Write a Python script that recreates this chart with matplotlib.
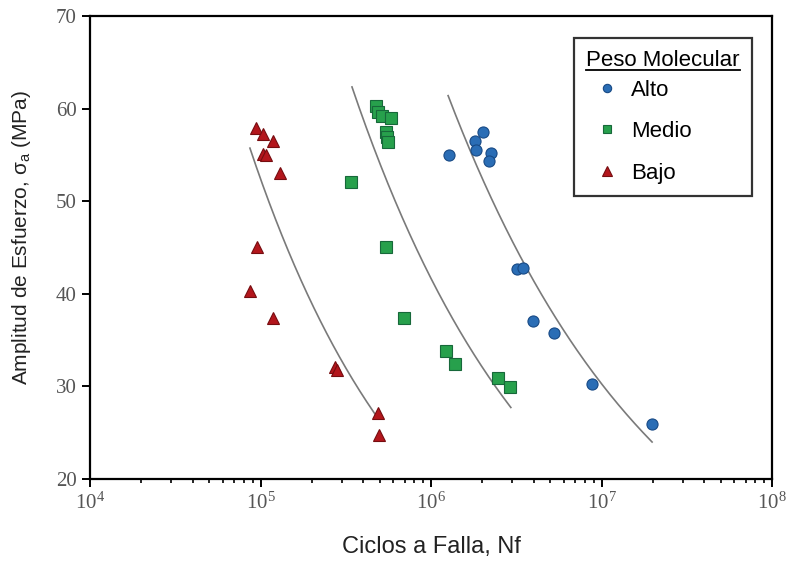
import numpy as np
import matplotlib
matplotlib.use("Agg")
import matplotlib.pyplot as plt
from matplotlib.lines import Line2D

plt.rcParams['font.family'] = ['Liberation Serif', 'DejaVu Serif']

# ciclos a falla (Nf) y amplitud de esfuerzo (MPa) por peso molecular
alto_n = [1.28e6, 1.81e6, 2.02e6, 1.84e6, 2.25e6, 2.19e6, 3.19e6, 3.46e6, 3.97e6, 5.26e6, 8.79e6, 1.98e7]
alto_s = [55.0, 56.5, 57.5, 55.5, 55.2, 54.3, 42.7, 42.8, 37.1, 35.8, 30.3, 25.9]

medio_n = [4.75e5, 4.89e5, 5.16e5, 5.83e5, 5.45e5, 5.52e5, 5.60e5, 3.40e5, 5.45e5, 6.95e5,
           1.22e6, 1.38e6, 2.47e6, 2.90e6]
medio_s = [60.3, 59.6, 59.2, 59.0, 57.5, 56.9, 56.4, 52.1, 45.1, 37.4, 33.8, 32.4, 30.9, 29.9]

bajo_n = [9.42e4, 1.04e5, 1.18e5, 1.04e5, 1.08e5, 1.30e5, 9.53e4, 8.67e4, 1.18e5, 2.74e5,
          2.81e5, 4.89e5, 4.95e5]
bajo_s = [57.9, 57.3, 56.5, 55.1, 55.0, 53.0, 45.1, 40.3, 37.4, 32.1, 31.8, 27.1, 24.8]

# ajustes S = A * N^b  (A, b, N inicial, N final)
fit_A = [7396, 7690, 7295]
fit_b = [-0.3411, -0.3777, -0.4287]
fit_n0 = [1.26e6, 3.44e5, 8.67e4]
fit_n1 = [1.98e7, 2.94e6, 4.82e5]

labels = ['Alto', 'Medio', 'Bajo']
colors = ['#2a6db5', '#27a04c', '#b3161c']
edges = ['#184a85', '#17683a', '#760d10']
markers = ['o', 's', '^']

fig = plt.figure(figsize=(7.92, 5.66), dpi=100)
ax = fig.add_axes([90/792, 1-479/566, (772-90)/792, (479-16)/566])

for A, b, n0, n1 in zip(fit_A, fit_b, fit_n0, fit_n1):
    nn = np.logspace(np.log10(n0), np.log10(n1), 200)
    ax.plot(nn, A*nn**b, color='#7a7a7a', lw=1.2, zorder=1)

data = [(alto_n, alto_s), (medio_n, medio_s), (bajo_n, bajo_s)]
for (n, s), lab, c, ec, m in zip(data, labels, colors, edges, markers):
    ax.plot(n, s, ls='none', marker=m, ms=8 if m != '^' else 9, mfc=c, mec=ec,
            mew=0.8, label=lab, zorder=3)

ax.set_xscale('log')
ax.set_xlim(1e4, 1e8)
ax.set_ylim(20, 70)
ax.set_yticks([20, 30, 40, 50, 60, 70])
ax.set_xticks([1e4, 1e5, 1e6, 1e7, 1e8])

for sp in ax.spines.values():
    sp.set_linewidth(1.6)
ax.tick_params(which='major', direction='out', length=6, width=1.4, labelsize=15,
               labelcolor='#555555')
ax.tick_params(which='minor', direction='out', length=3, width=1.2)
ax.tick_params(axis='y', which='minor', left=False)

ax.set_xlabel('Ciclos a Falla, Nf', family='Liberation Sans', fontsize=17,
              color='#222222', labelpad=16)
ax.set_ylabel('Amplitud de Esfuerzo, $\\mathregular{\\sigma_a}$ (MPa)', family='Liberation Sans',
              fontsize=15, color='#222222')
ax.yaxis.set_label_coords(-0.084, 0.522)

leg = ax.legend(loc='upper right', bbox_to_anchor=(752/792, 1-38/566),
                bbox_transform=fig.transFigure, borderaxespad=0,
                title='Peso Molecular', fancybox=False, frameon=True,
                prop={'family': 'Liberation Sans', 'size': 16},
                title_fontproperties={'family': 'Liberation Sans', 'size': 16},
                markerscale=0.75, labelspacing=0.93, handletextpad=0.1,
                borderpad=0.55, handlelength=1.9)
leg.get_frame().set_edgecolor('black')
leg.get_frame().set_linewidth(1.6)
leg._legend_box.align = 'left'
leg._legend_box.sep = 6

fig.canvas.draw()
bb = leg.get_title().get_window_extent().transformed(fig.transFigure.inverted())
fig.add_artist(Line2D([bb.x0, bb.x1], [bb.y0 + 0.002, bb.y0 + 0.002], color='black',
                      lw=1.3, transform=fig.transFigure))

fig.savefig('out.png', dpi=100)
